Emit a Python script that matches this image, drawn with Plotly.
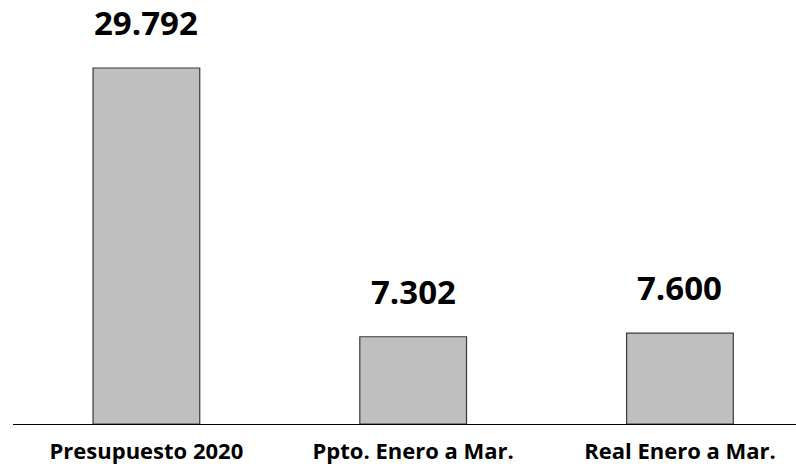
import plotly.graph_objects as go

categories = ["Presupuesto 2020", "Ppto. Enero a Mar.", "Real Enero a Mar."]
values = [29792, 7302, 7600]

labels = [f"{v:,}".replace(",", ".") for v in values]

fig = go.Figure()
fig.add_trace(go.Bar(
    x=categories, y=values, width=0.4,
    marker=dict(color="#BFBFBF", line=dict(color="#3a3a3a", width=1.2)),
    hoverinfo="skip",
))
for c, v, t in zip(categories, values, labels):
    fig.add_annotation(x=c, y=v, text=f"<b>{t}</b>", showarrow=False,
                       yanchor="bottom", yshift=21,
                       font=dict(family="Open Sans", size=33, color="#000000"))

fig.update_layout(
    width=796, height=470,
    margin=dict(l=13, r=0, t=0, b=46, autoexpand=False),
    paper_bgcolor="white", plot_bgcolor="white",
    showlegend=False,
    xaxis=dict(range=[-0.5, 2.435], showline=True, linecolor="#000000", linewidth=1,
               ticks="", showgrid=False, zeroline=False,
               tickfont=dict(family="Open Sans", size=22, color="#000000"),
               ticklabelstandoff=8,
               tickvals=categories, ticktext=[f"<b>{c}</b>" for c in categories]),
    yaxis=dict(range=[0, 35483], visible=False, showgrid=False, zeroline=False),
)
fig.write_html("out.html", config={"displayModeBar": False},
               post_script="document.body.style.margin='0';document.body.style.overflow='hidden';")
